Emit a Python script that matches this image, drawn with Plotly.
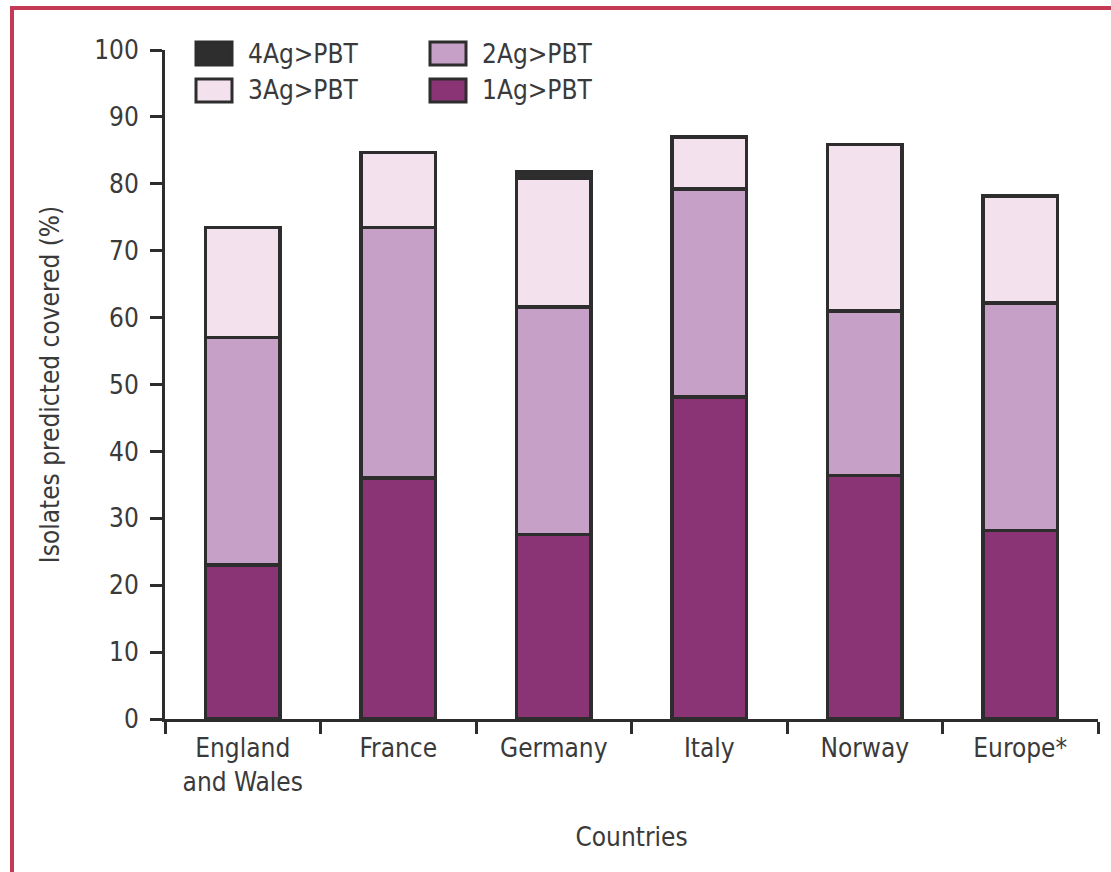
import plotly.graph_objects as go

# ---------------- data ----------------
countries = ["England<br>and Wales", "France", "Germany", "Italy", "Norway", "Europe*"]
series_names = ["1Ag>PBT", "2Ag>PBT", "3Ag>PBT", "4Ag>PBT"]
ag1 = [23.0, 36.0, 27.6, 48.1, 36.4, 28.2]
ag2 = [34.0, 37.5, 34.0, 31.1, 24.6, 34.0]
ag3 = [16.5, 11.2, 19.3, 7.8, 24.9, 16.0]
ag4 = [None, None, 0.9, None, None, None]
series_values = [ag1, ag2, ag3, ag4]
series_colors = ["#8b3475", "#c7a0c7", "#f3e2ee", "#2e2e2e"]
y_ticks = [0, 10, 20, 30, 40, 50, 60, 70, 80, 90, 100]

# legend layout: (series index, column, row)
legend_layout = [(3, 0, 0), (2, 0, 1), (1, 1, 0), (0, 1, 1)]

FONT = "DejaVu Sans Condensed, Liberation Sans Narrow, Arial Narrow, sans-serif"
TXT = "#3a3a3a"
LINE = "#2d2d2d"

W, H = 1111, 872
L, R, T, B = 165, 13, 50, 153
PW, PH = W - L - R, H - T - B


def px2x(px):
    return (px - L) / PW


def py2y(py):
    return (H - B - py) / PH


fig = go.Figure()
for name, vals, col in zip(series_names, series_values, series_colors):
    fig.add_trace(go.Bar(
        name=name, x=countries, y=vals, width=0.48,
        marker=dict(color=col, line=dict(color=LINE, width=3.5)),
        showlegend=False,
    ))

shapes = []
annotations = []
# outer crimson frame
shapes.append(dict(type="rect", xref="paper", yref="paper",
                   x0=px2x(12), x1=px2x(1140), y0=py2y(900), y1=py2y(8),
                   line=dict(color="#c43a55", width=4), fillcolor="rgba(0,0,0,0)",
                   layer="above"))

# manual legend (large swatches as in the original)
col_x = [196, 430]
row_y = [42, 79]
for idx, c, r in legend_layout:
    x0 = col_x[c]
    y0 = row_y[r]
    shapes.append(dict(type="rect", xref="paper", yref="paper",
                       x0=px2x(x0), x1=px2x(x0 + 36), y0=py2y(y0 + 23), y1=py2y(y0),
                       fillcolor=series_colors[idx], line=dict(color=LINE, width=3)))
    annotations.append(dict(xref="paper", yref="paper", x=px2x(x0 + 50), y=py2y(y0 + 11.5),
                            text=series_names[idx], showarrow=False, xanchor="left",
                            yanchor="middle", font=dict(family=FONT, size=26, color=TXT)))

fig.update_layout(
    width=W, height=H,
    margin=dict(l=L, r=R, t=T, b=B, pad=0),
    barmode="stack",
    paper_bgcolor="white", plot_bgcolor="white",
    font=dict(family=FONT, size=26, color=TXT),
    shapes=shapes, annotations=annotations,
    xaxis=dict(
        type="category", range=[-0.5, 5.5], tickson="boundaries",
        ticks="outside", ticklen=12, tickwidth=3, tickcolor=LINE,
        showline=True, linecolor=LINE, linewidth=3, showgrid=False,
        ticklabelstandoff=4,
        tickfont=dict(family=FONT, size=26, color=TXT),
        title=dict(text="Countries", standoff=32, font=dict(family=FONT, size=26, color=TXT)),
    ),
    yaxis=dict(
        range=[0, 100], tickvals=y_ticks, ticks="outside", ticklen=12, tickwidth=3,
        tickcolor=LINE, showline=True, linecolor=LINE, linewidth=3, showgrid=False,
        zeroline=False, ticklabelstandoff=6,
        tickfont=dict(family=FONT, size=26, color=TXT),
        title=dict(text="Isolates predicted covered (%)", standoff=28,
                   font=dict(family=FONT, size=26, color=TXT)),
    ),
)

fig.write_html("out.html", post_script="document.body.style.margin='0';",
               config={"displayModeBar": False})
